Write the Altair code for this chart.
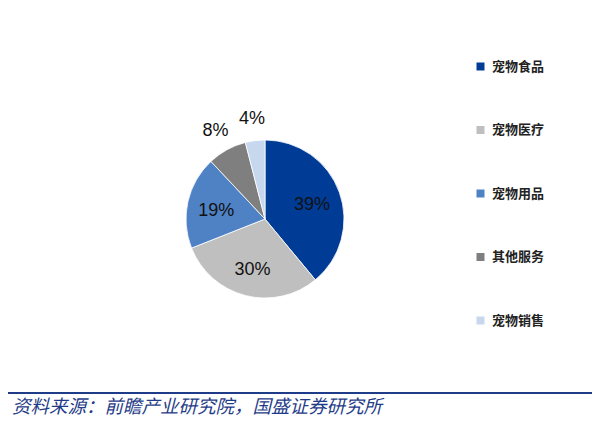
import altair as alt
import pandas as pd

categories = ["宠物食品", "宠物医疗", "宠物用品", "其他服务", "宠物销售"]
values = [39, 30, 19, 8, 4]
labels = ["39%", "30%", "19%", "8%", "4%"]
inside = [True, True, True, False, False]
colors = ["#003C96", "#BFBFBF", "#4F81C5", "#7F7F7F", "#C6D7EE"]
source_text = "资料来源：前瞻产业研究院，国盛证券研究所"

df = pd.DataFrame({
    "cat": categories,
    "value": values,
    "label": labels,
    "inside": inside,
    "idx": list(range(len(categories))),
})

CX, CY, R = 257, 211, 79

base = alt.Chart(df).encode(
    theta=alt.Theta("value:Q", stack=True),
    order=alt.Order("idx:Q"),
)

pie = base.mark_arc(outerRadius=R, stroke="white", strokeWidth=0.8).encode(
    x=alt.value(CX), y=alt.value(CY),
    color=alt.Color(
        "cat:N",
        scale=alt.Scale(domain=categories, range=colors),
        sort=categories,
        legend=alt.Legend(
            title=None, orient="none", legendX=466, legendY=52,
            symbolType="square", symbolSize=64, symbolStrokeWidth=0,
            labelFont="Noto Sans CJK SC", labelFontSize=13, labelFontWeight="bold",
            labelColor="#222222", rowPadding=49.5, labelOffset=5,
        ),
    ),
)

txt_in = base.mark_text(radius=50, dy=3, font="Liberation Sans", fontSize=18, color="#111111").encode(
    x=alt.value(CX), y=alt.value(CY), text="lab_in:N",
).transform_calculate(lab_in="datum.inside ? datum.label : ''")

txt_out = base.mark_text(radius=103, dy=2, font="Liberation Sans", fontSize=18, color="#111111").encode(
    x=alt.value(CX), y=alt.value(CY), text="lab_out:N",
).transform_calculate(lab_out="datum.inside ? '' : datum.label")

rule = alt.Chart(pd.DataFrame({"a": [0]})).mark_rule(color="#1F3C88", strokeWidth=2).encode(
    x=alt.value(-8), x2=alt.value(600), y=alt.value(385)
)

src = alt.Chart(pd.DataFrame({"t": [source_text]})).mark_text(
    align="left", baseline="middle", font="Noto Sans CJK SC", fontSize=18.5,
    fontStyle="italic", color="#1F3C88"
).encode(x=alt.value(4), y=alt.value(399), text="t:N")

chart = alt.layer(pie, txt_in, txt_out, rule, src).properties(
    width=584, height=413, autosize=alt.AutoSizeParams(type="none"), padding=0
).configure_view(stroke=None)

chart.save("out.html", embed_options={"renderer": "svg", "actions": False})
